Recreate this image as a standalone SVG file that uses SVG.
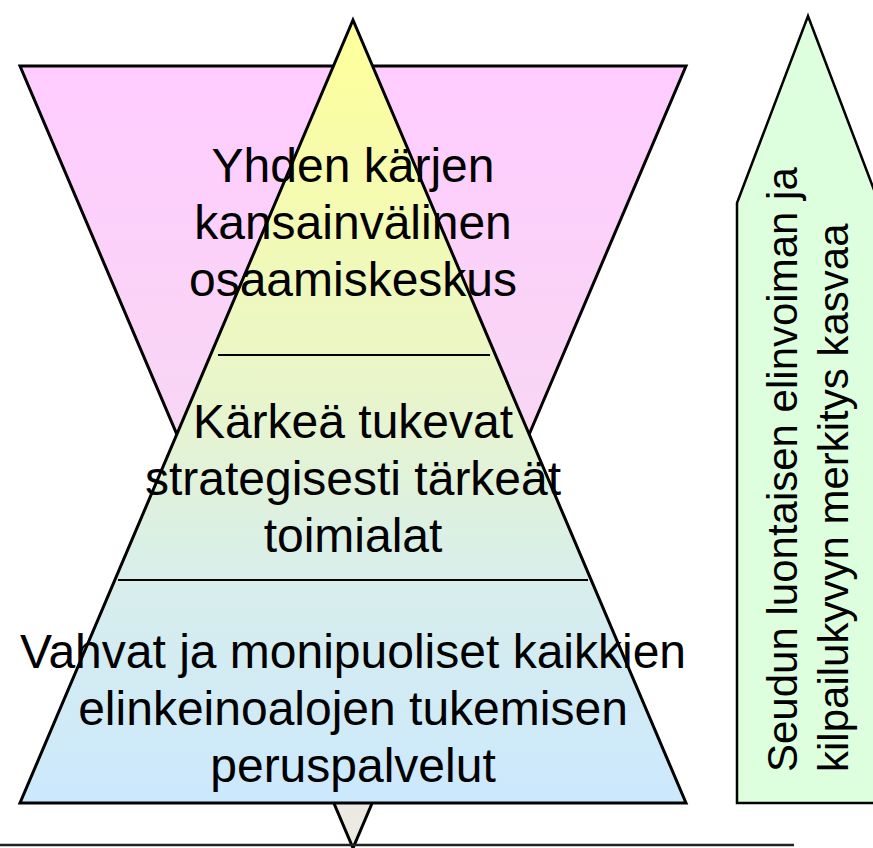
<svg xmlns="http://www.w3.org/2000/svg" width="873" height="848" viewBox="0 0 873 848">
  <defs>
    <linearGradient id="gPink" x1="0" y1="0" x2="0" y2="1">
      <stop offset="0" stop-color="#FFCCFF"/>
      <stop offset="0.45" stop-color="#F8D6F4"/>
      <stop offset="1" stop-color="#ECEBE0"/>
    </linearGradient>
    <linearGradient id="gPyr" x1="0" y1="0" x2="0" y2="1">
      <stop offset="0" stop-color="#FFFF99"/>
      <stop offset="0.45" stop-color="#EAF6C8"/>
      <stop offset="0.72" stop-color="#D7EEEC"/>
      <stop offset="1" stop-color="#CCE8FD"/>
    </linearGradient>
  </defs>
  <style>
    .lbl { font-family: "Liberation Sans", Arial, sans-serif; font-size: 48px; fill: #000; text-anchor: middle; }
    .side { font-family: "Liberation Sans", Arial, sans-serif; font-size: 42px; fill: #000; }
    .edge { stroke: #000; stroke-width: 3; stroke-linejoin: miter; }
    .div { stroke: #000; stroke-width: 2; }
  </style>

  <g id="inverted-triangle">
    <polygon points="20,66 686,66 353,848" fill="url(#gPink)" class="edge"/>
  </g>

  <g id="pyramid">
    <polygon points="353,20 686,803 20,803" fill="url(#gPyr)" class="edge"/>
  </g>

  <g id="connectors">
    <line x1="218" y1="355" x2="490" y2="355" class="div"/>
    <line x1="118" y1="580" x2="588" y2="580" class="div"/>
    <line x1="0" y1="845" x2="794" y2="845" stroke="#222" stroke-width="2.5"/>
  </g>

  <g id="level-top">
    <text class="lbl" x="353" y="182">Yhden kärjen</text>
    <text class="lbl" x="353" y="239">kansainvälinen</text>
    <text class="lbl" x="353" y="296">osaamiskeskus</text>
  </g>

  <g id="level-middle">
    <text class="lbl" x="353" y="438">Kärkeä tukevat</text>
    <text class="lbl" x="353" y="495">strategisesti tärkeät</text>
    <text class="lbl" x="353" y="552">toimialat</text>
  </g>

  <g id="level-bottom">
    <text class="lbl" x="353" y="668">Vahvat ja monipuoliset kaikkien</text>
    <text class="lbl" x="353" y="725">elinkeinoalojen tukemisen</text>
    <text class="lbl" x="353" y="782">peruspalvelut</text>
  </g>

  <g id="side-arrow">
    <path d="M737,803 L737,203 L808,16 L879,203 L879,803 Z" fill="#DDFFDD" stroke="#000" stroke-width="2.5"/>
    <text class="side" transform="translate(797,772) rotate(-90)">Seudun luontaisen elinvoiman ja</text>
    <text class="side" transform="translate(848,772) rotate(-90)">kilpailukyvyn merkitys kasvaa</text>
  </g>
</svg>
